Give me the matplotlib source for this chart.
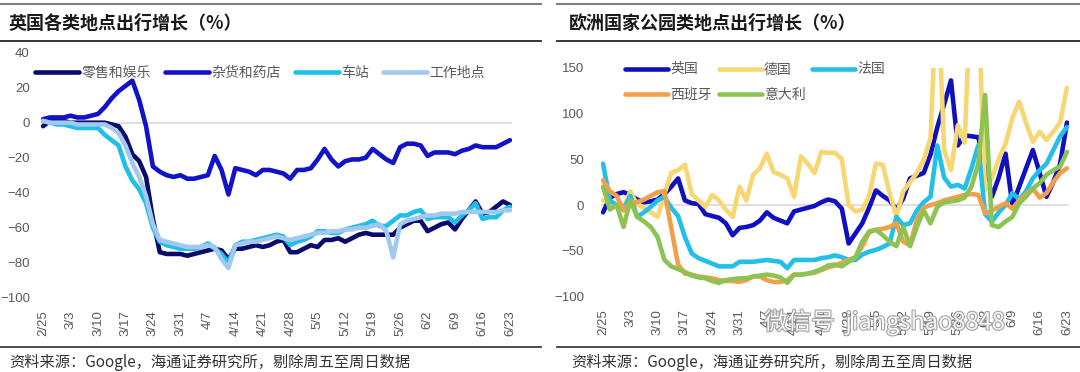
import matplotlib
matplotlib.use('Agg')
import matplotlib.pyplot as plt
import pandas as pd
from matplotlib.lines import Line2D
import matplotlib.patheffects as pe

plt.rcParams['font.family'] = ['Noto Sans CJK SC', 'DejaVu Sans']

# ---------------- categories ----------------
dates = pd.date_range('2020-02-25', '2020-06-23')
dates = dates[dates.weekday < 4]          # Friday-Sunday removed
date_labels = [f"{d.month}/{d.day}" for d in dates]

# ---------------- left chart: UK by place type ----------------
left_title = '英国各类地点出行增长（%）'
left_names = ['零售和娱乐', '杂货和药店', '车站', '工作地点']
left_colors = ['#0B0B6E', '#1212C8', '#1EC0E8', '#A2C8EE']

retail = [-2, 1, 1, 1, 0, 0, 0, 0, 0, 0,
          -1, -2, -8, -18, -22, -31, -55, -74, -75, -75,
          -75, -76, -75, -74, -73, -72, -73, -78, -72, -72,
          -71, -70, -71, -70, -68, -67, -74, -74, -72, -70,
          -71, -67, -67, -66, -68, -66, -64, -63, -64, -64,
          -64, -64, -60, -58, -56, -56, -62, -60, -58, -57,
          -61, -55, -50, -45, -52, -51, -48, -45, -47]
grocery = [2, 3, 3, 3, 4, 3, 3, 4, 5, 9,
           14, 18, 21, 24, 13, -2, -25, -28, -30, -31,
           -30, -32, -32, -31, -30, -19, -27, -41, -26, -27,
           -28, -30, -27, -27, -28, -29, -32, -27, -27, -26,
           -21, -15, -21, -25, -22, -21, -21, -20, -15, -18,
           -21, -23, -14, -12, -12, -13, -19, -17, -17, -17,
           -18, -16, -15, -13, -14, -14, -14, -12, -10]
transit = [1, 0, -1, -1, -2, -3, -3, -3, -3, -7,
           -10, -13, -25, -33, -38, -46, -60, -68, -70, -71,
           -72, -72, -72, -71, -69, -72, -75, -80, -70, -68,
           -68, -67, -66, -65, -64, -65, -70, -68, -67, -65,
           -62, -62, -63, -63, -61, -60, -59, -58, -56, -59,
           -59, -56, -53, -53, -51, -50, -55, -54, -54, -54,
           -57, -53, -50, -46, -55, -54, -54, -50, -48]
workplace = [1, 0, 0, 0, 0, -1, -1, -1, -1, -1,
             -3, -6, -13, -23, -31, -42, -58, -67, -68, -69,
             -70, -71, -71, -71, -70, -71, -78, -83, -70, -69,
             -68, -68, -67, -66, -65, -66, -67, -66, -65, -64,
             -63, -63, -62, -62, -61, -61, -60, -60, -59, -58,
             -62, -77, -58, -56, -55, -54, -53, -53, -52, -52,
             -52, -51, -51, -51, -51, -51, -51, -50, -50]
left_yticks = [-100, -80, -60, -40, -20, 0, 20, 40]

# ---------------- right chart: European parks ----------------
right_title = '欧洲国家公园类地点出行增长（%）'
right_names = ['英国', '德国', '法国', '西班牙', '意大利']
right_colors = ['#1010C0', '#F7D774', '#22C0E8', '#F0A04B', '#8DC353']

uk = [-8, 8, 12, 14, 11, 6, 3, 4, 6, 12,
      20, 29, 5, 2, 1, -10, -12, -14, -20, -33,
      -25, -24, -22, -17, -8, -14, -17, -20, -7, -5,
      -3, -1, 3, 6, 4, -4, -42, -31, -20, -3,
      16, 10, 5, -5, 7, 29, 32, 35, 55, 85,
      110, 136, 65, 76, 75, 74, 40, 9, 30, 56,
      0, 20, 40, 60, 35, 9, 25, 45, 90]
germany = [5, 3, -2, -3, 15, 0, -3, -8, -13, 12,
           35, 38, 44, 12, 5, -2, 11, 5, -5, -13,
           20, 5, 33, 40, 56, 36, 33, 29, 9, 53,
           45, 35, 58, 57, 57, 50, 0, -7, -5, 10,
           45, 44, 13, -13, 15, 25, 35, 49, 73, 250,
           60, 38, 87, 68, 250, 220, 16, 30, 50, 67,
           95, 113, 90, 69, 80, 71, 80, 90, 128]
france = [45, 5, 0, -5, 10, -13, -8, -2, 5, 9,
          -3, -12, -35, -53, -58, -61, -64, -67, -67, -67,
          -62, -62, -62, -61, -60, -61, -62, -69, -60, -60,
          -60, -60, -58, -57, -55, -57, -60, -60, -54, -51,
          -49, -46, -42, -13, -22, -20, -6, 3, 9, 65,
          30, 20, 22, 18, 40, 65, -10, -18, -8, 0,
          13, 6, 15, 29, 38, 45, 60, 75, 85]
spain = [27, 15, 10, -6, 3, 3, 6, 10, 14, 15,
         -25, -65, -75, -76, -78, -79, -80, -82, -83, -83,
         -84, -82, -78, -78, -82, -84, -84, -82, -76, -76,
         -75, -74, -71, -68, -66, -63, -60, -57, -45, -30,
         -27, -26, -24, -20, -40, -44, -16, -3, 0, 2,
         5, 7, 9, 11, 12, 11, -9, -6, -2, 2,
         -4, 5, 12, 18, 8, 13, 25, 35, 40]
italy = [20, -5, 0, -24, 5, -13, -18, -24, -35, -60,
         -67, -70, -73, -77, -79, -80, -83, -85, -82, -81,
         -80, -80, -78, -77, -76, -77, -79, -85, -76, -76,
         -75, -73, -70, -66, -65, -67, -62, -57, -40, -29,
         -27, -33, -40, -45, -24, -45, -24, -6, -20, -2,
         3, 4, 5, 8, 20, 45, 120, -22, -24, -18,
         -13, 2, 9, 18, 24, 33, 38, 42, 58]
right_yticks = [-100, -50, 0, 50, 100, 150]

source_text = '资料来源：Google，海通证券研究所，剔除周五至周日数据'
watermark = '微信号  jiangshao8848'

# ---------------- figure ----------------
W, H = 1080, 372
fig = plt.figure(figsize=(W / 100, H / 100), dpi=100)


def fx(px):
    return px / W


def fy(py):
    return 1 - py / H


def style_axes(ax, yticks, ylim, pad_y):
    ax.set_xlim(-0.3, 68.3)
    ax.set_ylim(*ylim)
    for s in ax.spines.values():
        s.set_visible(False)
    ax.axhline(0, color='#D9D9D9', lw=1.2, zorder=1)
    ax.set_yticks(yticks)
    ax.set_xticks(range(0, len(date_labels), 4))
    ax.set_xticklabels(date_labels[::4], rotation=90)
    ax.tick_params(axis='both', length=0, labelsize=9.5, labelcolor='#595959')
    ax.tick_params(axis='x', pad=9)
    ax.tick_params(axis='y', pad=pad_y)
    for lab in ax.get_xticklabels() + ax.get_yticklabels():
        lab.set_family(['Liberation Sans', 'DejaVu Sans'])
    ax.patch.set_alpha(0)


x = list(range(len(date_labels)))
LW = 3.3

# left axes
ax1 = fig.add_axes([fx(41), fy(297.7), fx(512) - fx(41), fy(52.7) - fy(297.7)])
left_series = [retail, grocery, transit, workplace]
h1 = []
for vals, name, col in zip(left_series, left_names, left_colors):
    ln, = ax1.plot(x, vals, color=col, lw=LW, label=name, solid_joinstyle='round',
                   solid_capstyle='round', zorder=3)
    h1.append(ln)
style_axes(ax1, left_yticks, (-100, 40), 8)
fig.legend(h1, left_names, loc='center left', bbox_to_anchor=(fx(35), fy(72.7)),
           ncol=4, frameon=False, fontsize=10, labelcolor='#595959',
           handlelength=3.2, handletextpad=0.15, columnspacing=1.0,
           borderpad=0, borderaxespad=0)

# right axes
ax2 = fig.add_axes([fx(601), fy(296.6), fx(1069) - fx(601), fy(67.6) - fy(296.6)])
right_series = [uk, germany, france, spain, italy]
h2 = []
for vals, name, col in zip(right_series, right_names, right_colors):
    ln, = ax2.plot(x, vals, color=col, lw=LW, label=name, solid_joinstyle='round',
                   solid_capstyle='round', zorder=3)
    h2.append(ln)
style_axes(ax2, right_yticks, (-100, 150), 12)
order = [0, 3, 1, 4, 2]
fig.legend([h2[i] for i in order], [right_names[i] for i in order],
           loc='center left', bbox_to_anchor=(fx(625), fy(82)),
           ncol=3, frameon=False, fontsize=10, labelcolor='#595959',
           handlelength=3.1, handletextpad=0.15, columnspacing=0.5,
           labelspacing=0.8, borderpad=0, borderaxespad=0)

# frame lines, titles, sources
for (x0, x1) in [(0, 541), (557, 1080)]:
    fig.add_artist(Line2D([fx(x0), fx(x1)], [fy(4), fy(4)], color='#808080', lw=1.5))
    fig.add_artist(Line2D([fx(x0), fx(x1)], [fy(41), fy(41)], color='#262626', lw=1.3))
    fig.add_artist(Line2D([fx(x0), fx(x1)], [fy(347), fy(347)], color='#404040', lw=1.3))

fig.text(fx(9), fy(23), left_title, fontsize=13, fontweight='bold', color='#1a1a1a',
         va='center', ha='left')
fig.text(fx(569), fy(23), right_title, fontsize=13, fontweight='bold', color='#1a1a1a',
         va='center', ha='left')
fig.text(fx(9), fy(362), source_text, fontsize=11, color='#333333', va='center', ha='left')
fig.text(fx(571), fy(362), source_text, fontsize=11, color='#333333', va='center', ha='left')

fig.text(fx(764), fy(322), watermark, fontsize=17, color='white', alpha=0.9,
         va='center', ha='left',
         path_effects=[pe.withStroke(linewidth=1.6, foreground='#9a9a9a')])

fig.savefig('out.png', dpi=100)
